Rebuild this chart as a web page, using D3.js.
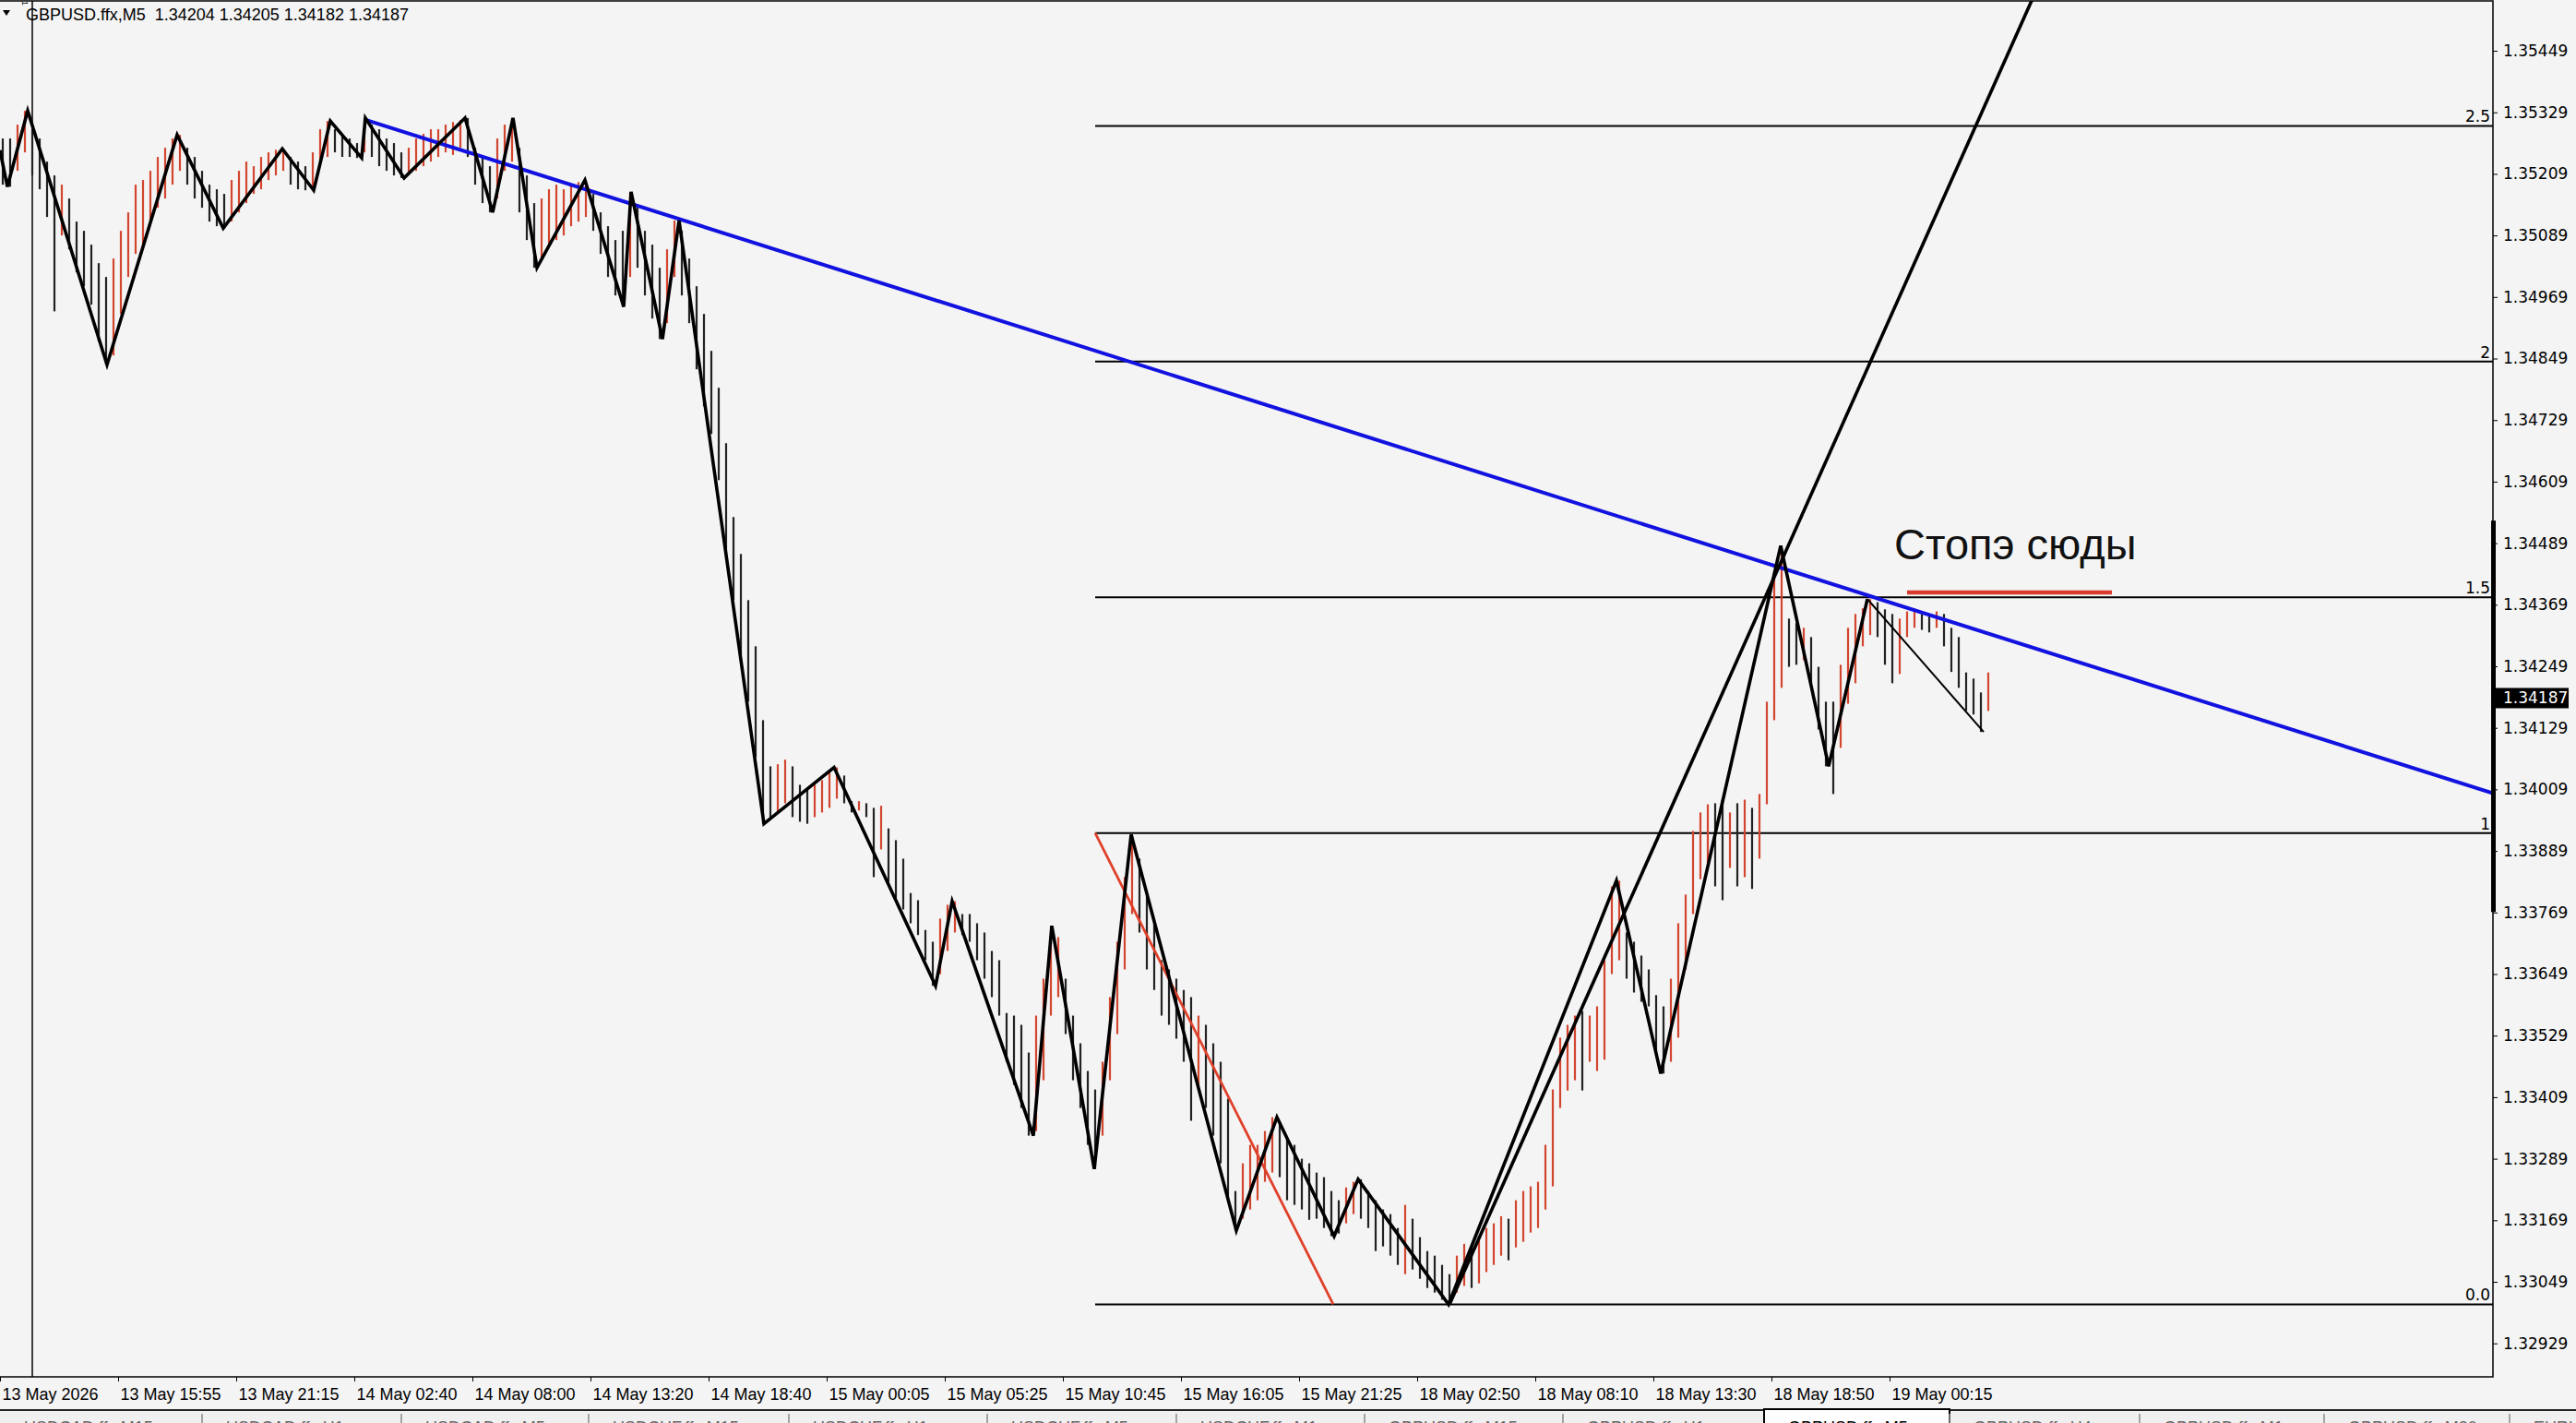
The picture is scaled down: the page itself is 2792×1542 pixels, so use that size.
<!DOCTYPE html>
<html>
<head>
<meta charset="utf-8">
<script src="https://d3js.org/d3.v7.min.js"></script>
<style>
  body { margin: 0; background: #f4f4f4; }
  svg { display: block; }
</style>
</head>
<body>
<svg id="chart" width="2792" height="1542"></svg>
<script>
// ---- data (GBPUSD M5, prices) ----

// one entry = 4 M5 bars (20 min), starting at bar 0
var barHigh = [
  1.35278,1.35278,1.35305,1.35332,1.35296,1.35278,1.35233,1.35206,1.35188,1.35161,
  1.35116,1.35098,1.35071,1.35035,1.35008,1.35044,1.35098,1.35134,1.35188,1.35197,
  1.35215,1.35242,1.35260,1.35278,1.35285,1.35260,1.35242,1.35215,1.35188,1.35179,
  1.35170,1.35197,1.35215,1.35233,1.35224,1.35242,1.35251,1.35256,1.35258,1.35242,
  1.35233,1.35224,1.35251,1.35296,1.35312,1.35296,1.35287,1.35278,1.35269,1.35318,
  1.35305,1.35296,1.35278,1.35269,1.35251,1.35260,1.35278,1.35287,1.35296,1.35296,
  1.35305,1.35310,1.35314,1.35318,1.35260,1.35242,1.35224,1.35278,1.35305,1.35318,
  1.35260,1.35206,1.35152,1.35161,1.35179,1.35188,1.35179,1.35188,1.35193,1.35197,
  1.35170,1.35134,1.35107,1.35080,1.35098,1.35174,1.35143,1.35098,1.35071,1.35026,
  1.35062,1.35118,1.35098,1.35044,1.34990,1.34936,1.34864,1.34792,1.34684,1.34540,
  1.34468,1.34378,1.34288,1.34144,1.34054,1.34058,1.34067,1.34054,1.34018,1.34009,
  1.34018,1.34027,1.34045,1.34052,1.34036,1.33986,1.33986,1.33982,1.33973,1.33977,
  1.33933,1.33910,1.33874,1.33807,1.33793,1.33735,1.33712,1.33757,1.33784,1.33791,
  1.33766,1.33766,1.33748,1.33730,1.33694,1.33676,1.33573,1.33568,1.33550,1.33496,
  1.33568,1.33640,1.33743,1.33721,1.33640,1.33568,1.33514,1.33460,1.33424,1.33478,
  1.33604,1.33712,1.33838,1.33921,1.33874,1.33802,1.33748,1.33676,1.33658,1.33640,
  1.33618,1.33604,1.33568,1.33550,1.33514,1.33478,1.33406,1.33226,1.33280,1.33316,
  1.33316,1.33343,1.33370,1.33361,1.33329,1.33316,1.33289,1.33280,1.33262,1.33253,
  1.33226,1.33208,1.33233,1.33244,1.33249,1.33226,1.33208,1.33190,1.33181,1.33154,
  1.33199,1.33172,1.33136,1.33109,1.33100,1.33082,1.33064,1.33100,1.33123,1.33118,
  1.33136,1.33154,1.33163,1.33177,1.33172,1.33208,1.33226,1.33235,1.33244,1.33316,
  1.33424,1.33525,1.33550,1.33568,1.33577,1.33568,1.33586,1.33676,1.33820,1.33831,
  1.33730,1.33712,1.33685,1.33658,1.33608,1.33586,1.33640,1.33748,1.33804,1.33928,
  1.33964,1.33980,1.33982,1.33989,1.33964,1.33982,1.33989,1.33973,1.34000,1.34180,
  1.34432,1.34484,1.34342,1.34333,1.34324,1.34306,1.34248,1.34180,1.34180,1.34252,
  1.34324,1.34351,1.34362,1.34380,1.34374,1.34360,1.34351,1.34342,1.34356,1.34362,
  1.34351,1.34346,1.34356,1.34351,1.34324,1.34306,1.34237,1.34225,1.34198,1.34237
];
var barLow = [
  1.35188,1.35184,1.35215,1.35251,1.35206,1.35179,1.35125,1.34941,1.35089,1.35062,
  1.35017,1.34990,1.34954,1.34882,1.34837,1.34855,1.34936,1.35008,1.35053,1.35071,
  1.35116,1.35143,1.35161,1.35188,1.35215,1.35188,1.35161,1.35143,1.35116,1.35107,
  1.35103,1.35116,1.35134,1.35152,1.35170,1.35179,1.35197,1.35206,1.35215,1.35188,
  1.35179,1.35177,1.35177,1.35224,1.35242,1.35251,1.35242,1.35242,1.35240,1.35251,
  1.35242,1.35224,1.35215,1.35206,1.35201,1.35210,1.35215,1.35224,1.35233,1.35242,
  1.35251,1.35246,1.35260,1.35242,1.35188,1.35152,1.35134,1.35161,1.35215,1.35233,
  1.35134,1.35080,1.35026,1.35044,1.35071,1.35080,1.35089,1.35107,1.35116,1.35125,
  1.35098,1.35053,1.35008,1.34972,1.34950,1.35008,1.35026,1.34972,1.34927,1.34887,
  1.34918,1.35008,1.34972,1.34918,1.34828,1.34756,1.34702,1.34612,1.34468,1.34378,
  1.34270,1.34180,1.34072,1.33942,1.33955,1.33964,1.33982,1.33955,1.33946,1.33942,
  1.33955,1.33964,1.33973,1.33991,1.33982,1.33964,1.33968,1.33955,1.33838,1.33892,
  1.33829,1.33797,1.33775,1.33748,1.33725,1.33676,1.33626,1.33649,1.33694,1.33730,
  1.33725,1.33712,1.33676,1.33640,1.33604,1.33568,1.33478,1.33433,1.33388,1.33334,
  1.33343,1.33442,1.33568,1.33604,1.33532,1.33442,1.33388,1.33316,1.33269,1.33334,
  1.33442,1.33532,1.33658,1.33766,1.33730,1.33658,1.33618,1.33568,1.33550,1.33523,
  1.33478,1.33363,1.33424,1.33388,1.33334,1.33280,1.33208,1.33149,1.33172,1.33190,
  1.33208,1.33244,1.33262,1.33253,1.33208,1.33199,1.33190,1.33170,1.33172,1.33154,
  1.33138,1.33143,1.33163,1.33181,1.33172,1.33154,1.33109,1.33118,1.33100,1.33082,
  1.33064,1.33073,1.33055,1.33037,1.33028,1.33014,1.33005,1.33028,1.33041,1.33037,
  1.33046,1.33068,1.33082,1.33100,1.33091,1.33116,1.33127,1.33145,1.33154,1.33190,
  1.33235,1.33388,1.33422,1.33442,1.33422,1.33478,1.33460,1.33482,1.33649,1.33676,
  1.33640,1.33613,1.33595,1.33586,1.33496,1.33455,1.33478,1.33525,1.33658,1.33766,
  1.33834,1.33856,1.33820,1.33793,1.33856,1.33820,1.33838,1.33815,1.33874,1.33980,
  1.34144,1.34207,1.34248,1.34252,1.34261,1.34216,1.34126,1.34054,1.34000,1.34090,
  1.34176,1.34216,1.34288,1.34310,1.34306,1.34252,1.34216,1.34234,1.34306,1.34324,
  1.34320,1.34315,1.34324,1.34288,1.34238,1.34207,1.34162,1.34155,1.34121,1.34162
];
var barsPerEntry = 4;

// zigzag indicator vertices (M5 bar index, price)
var zzBars = [0,4,15,58,96,121,153,170,179,196,198,219,252,267,278,291,317,338,342,359,
  368,414,452,507,516,560,570,593,613,670,692,723,736,785,876,900,965,991,1012,1075];
var zzPrices = [1.35255,1.35184,1.35332,1.34837,1.35285,1.35103,1.35258,1.35177,1.35312,1.35240,
  1.35318,1.35201,1.35318,1.35134,1.35318,1.35026,1.35197,1.34950,1.35174,1.34887,
  1.35118,1.33942,1.34052,1.33626,1.33791,1.33334,1.33743,1.33269,1.33921,1.33149,
  1.33370,1.33138,1.33249,1.33005,1.33831,1.33455,1.34484,1.34054,1.34380,1.34121];

// drawn objects
var blueTrendBars = [198.5, 1012.5];
var blueTrendPrices = [1.35314, 1.34387];
var rayBars = [785.5, 1000];
var rayPrices = [1.33005, 1.34733];
var fiboBars = [593.5, 722.5];
var fiboPrices = [1.33924, 1.33005];
var fiboLevels = [0, 1, 1.5, 2, 2.5];
var fiboLabels = ["0.0", "1", "1.5", "2", "2.5"];
var stopBars = [1033.5, 1144.5];
var stopPrice = 1.34393;
var stopText = "Стопэ сюды";
var vlineBar = 17.5;
var vlineLabel = "1";
var axisBandPrices = [1.34533, 1.33770];

// axes
var priceTicks = [1.35449,1.35329,1.35209,1.35089,1.34969,1.34849,1.34729,1.34609,1.34489,1.34369,
  1.34249,1.34129,1.34009,1.33889,1.33769,1.33649,1.33529,1.33409,1.33289,1.33169,1.33049,1.32929];
var timeTickBars = [0,64,128,192,256,320,384,448,512,576,640,704,768,832,896,960,1024];
var timeLabels = ["13 May 2026","13 May 15:55","13 May 21:15","14 May 02:40","14 May 08:00",
  "14 May 13:20","14 May 18:40","15 May 00:05","15 May 05:25","15 May 10:45","15 May 16:05",
  "15 May 21:25","18 May 02:50","18 May 08:10","18 May 13:30","18 May 18:50","19 May 00:15"];
var symbolTitle = "GBPUSD.ffx,M5  1.34204 1.34205 1.34182 1.34187";
var lastPrice = 1.34187;
var tabLabels = ["USDCAD.ffx,M15","USDCAD.ffx,H1","USDCAD.ffx,M5","USDCHF.ffx,M15","USDCHF.ffx,H1",
  "USDCHF.ffx,M5","USDCHF.ffx,M1","GBPUSD.ffx,M15","GBPUSD.ffx,H1","GBPUSD.ffx,M5",
  "GBPUSD.ffx,H4","GBPUSD.ffx,M1","GBPUSD.ffx,M30","EURUSD.ffx,M5"];
var activeTab = 9;

// ---- layout ----
var W = 2792, H = 1542;
var plotRight = 2702, plotTop = 1, plotBottom = 1492;
var tabWidths = [219, 216, 203, 217, 215, 205, 204, 215, 218, 201, 206, 200, 201, 80];

var svg = d3.select("#chart");

var x = d3.scaleLinear().domain([0, 1351]).range([0, plotRight]);
var y = d3.scaleLinear().domain([1.328637, 1.355462]).range([plotBottom, plotTop]);

svg.append("rect").attr("width", W).attr("height", H).attr("fill", "#f4f4f4");

svg.append("defs").append("clipPath").attr("id", "plotClip")
  .append("rect").attr("x", 0).attr("y", plotTop).attr("width", plotRight).attr("height", plotBottom - plotTop);

var plot = svg.append("g").attr("clip-path", "url(#plotClip)");

// vertical line object
plot.append("line")
  .attr("x1", x(vlineBar)).attr("x2", x(vlineBar))
  .attr("y1", 0).attr("y2", plotBottom)
  .attr("stroke", "#000").attr("stroke-width", 1.5);

// fibo levels
var fx0 = x(Math.min(fiboBars[0], fiboBars[1]));
var fRange = fiboPrices[0] - fiboPrices[1];
fiboLevels.forEach(function (lv, i) {
  var py = y(fiboPrices[1] + lv * fRange);
  plot.append("line")
    .attr("x1", fx0).attr("x2", plotRight)
    .attr("y1", py).attr("y2", py)
    .attr("stroke", "#000").attr("stroke-width", 2);
  svg.append("text")
    .attr("x", plotRight - 3).attr("y", py - 4)
    .attr("text-anchor", "end")
    .attr("font-family", "DejaVu Sans")
    .attr("font-size", 17)
    .attr("fill", "#000")
    .text(fiboLabels[i]);
});

// price bars
var entries = barHigh.map(function (h, i) {
  return { bar: i * barsPerEntry + 1.5, high: h, low: barLow[i] };
});
plot.selectAll("line.bar")
  .data(entries)
  .enter().append("line")
  .attr("class", "bar")
  .attr("x1", function (d) { return x(d.bar); })
  .attr("x2", function (d) { return x(d.bar); })
  .attr("y1", function (d) { return y(d.high); })
  .attr("y2", function (d) { return y(d.low); })
  .attr("stroke", function (d, i) {
    if (i == 0) return "#222";
    var prev = entries[i - 1];
    return (d.high + d.low) >= (prev.high + prev.low) ? "#d2452f" : "#222";
  })
  .attr("stroke-width", 2.2);

// fibo diagonal (red)
plot.append("line")
  .attr("x1", x(fiboBars[0])).attr("y1", y(fiboPrices[0]))
  .attr("x2", x(fiboBars[1])).attr("y2", y(fiboPrices[1]))
  .attr("stroke", "#e0402a").attr("stroke-width", 2.8);

// helper: extend a line through two anchors to a given bar
function priceAt(bars, prices, bar) {
  var k = (prices[1] - prices[0]) / (bars[1] - bars[0]);
  return prices[0] + k * (bar - bars[0]);
}

// blue trendline, ray to the right edge
plot.append("line")
  .attr("x1", x(blueTrendBars[0])).attr("y1", y(blueTrendPrices[0]))
  .attr("x2", x(1351)).attr("y2", y(priceAt(blueTrendBars, blueTrendPrices, 1351)))
  .attr("stroke", "#1212e0").attr("stroke-width", 4);

// black ray from the low
plot.append("line")
  .attr("x1", x(rayBars[0])).attr("y1", y(rayPrices[0]))
  .attr("x2", x(1351)).attr("y2", y(priceAt(rayBars, rayPrices, 1351)))
  .attr("stroke", "#000").attr("stroke-width", 3.6);

// zigzag
var zz = zzBars.map(function (b, i) { return [x(b), y(zzPrices[i])]; });
var line = d3.line();
plot.append("path")
  .attr("d", line(zz.slice(0, zz.length - 1)))
  .attr("fill", "none").attr("stroke", "#000")
  .attr("stroke-width", 3.6).attr("stroke-linejoin", "miter");
plot.append("path")
  .attr("d", line(zz.slice(zz.length - 2)))
  .attr("fill", "none").attr("stroke", "#000").attr("stroke-width", 2);

// stop note
plot.append("line")
  .attr("x1", x(stopBars[0])).attr("x2", x(stopBars[1]))
  .attr("y1", y(stopPrice)).attr("y2", y(stopPrice))
  .attr("stroke", "#d83a2c").attr("stroke-width", 4.5);
svg.append("text")
  .attr("x", x(1026.5)).attr("y", y(stopPrice) - 36)
  .attr("font-family", "Liberation Sans, Arial, sans-serif")
  .attr("font-size", 47)
  .attr("fill", "#111")
  .text(stopText);

// frame
svg.append("path")
  .attr("d", "M0," + plotTop + "H" + plotRight + "V" + plotBottom + "H0")
  .attr("fill", "none").attr("stroke", "#000").attr("stroke-width", 1.5);

// price axis
var yAxis = svg.append("g")
  .attr("transform", "translate(" + plotRight + ",0)")
  .call(d3.axisRight(y).tickValues(priceTicks).tickSize(5).tickPadding(6)
    .tickFormat(d3.format(".5f")));
yAxis.select(".domain").remove();
yAxis.selectAll("text")
  .attr("font-family", "DejaVu Sans").attr("font-size", 17).attr("fill", "#000");
yAxis.selectAll("line").attr("stroke", "#000");

// thick band on the scale
svg.append("rect")
  .attr("x", plotRight - 2).attr("width", 5)
  .attr("y", y(axisBandPrices[0]))
  .attr("height", y(axisBandPrices[1]) - y(axisBandPrices[0]))
  .attr("fill", "#000");

// last price label
svg.append("rect")
  .attr("x", plotRight + 1).attr("y", y(lastPrice) - 11)
  .attr("width", 81).attr("height", 22).attr("fill", "#000");
svg.append("text")
  .attr("x", plotRight + 11).attr("y", y(lastPrice))
  .attr("dy", "0.35em")
  .attr("font-family", "DejaVu Sans").attr("font-size", 17)
  .attr("fill", "#fff")
  .text(d3.format(".5f")(lastPrice));

// time axis
var xAxis = svg.append("g")
  .attr("transform", "translate(0," + plotBottom + ")")
  .call(d3.axisBottom(x).tickValues(timeTickBars).tickSize(5)
    .tickFormat(function (d, i) { return timeLabels[i]; }));
xAxis.select(".domain").remove();
xAxis.selectAll("line").attr("stroke", "#000");
xAxis.selectAll("text")
  .attr("text-anchor", "start")
  .attr("x", 2).attr("y", 12).attr("dy", "0.71em")
  .attr("font-family", "Liberation Sans, Arial, sans-serif")
  .attr("font-size", 18).attr("fill", "#000");

// title
svg.append("path").attr("d", "M3,11 L11,11 L7,17 Z").attr("fill", "#000");
svg.append("text")
  .attr("x", 28).attr("y", 22)
  .attr("font-family", "Liberation Sans, Arial, sans-serif")
  .attr("font-size", 18).attr("fill", "#000")
  .style("white-space", "pre")
  .text(symbolTitle);
svg.append("text")
  .attr("transform", "translate(24,1) rotate(90)")
  .attr("font-family", "Liberation Sans, Arial, sans-serif")
  .attr("font-size", 9).attr("fill", "#000")
  .text(vlineLabel);

// symbol tabs at the bottom (cut by the window edge)
var tabTop = 1528;
svg.append("rect").attr("x", 0).attr("y", tabTop).attr("width", W).attr("height", H - tabTop)
  .attr("fill", "#f0f0f0");
svg.append("line").attr("x1", 0).attr("x2", W).attr("y1", tabTop).attr("y2", tabTop)
  .attr("stroke", "#222").attr("stroke-width", 2);
var tx = 0;
tabLabels.forEach(function (t, i) {
  var w = tabWidths[i];
  if (i == activeTab) {
    svg.append("rect").attr("x", tx).attr("y", tabTop - 1).attr("width", w).attr("height", H - tabTop + 2)
      .attr("fill", "#fff").attr("stroke", "#000").attr("stroke-width", 2);
  } else if (i > 0) {
    svg.append("line").attr("x1", tx).attr("x2", tx).attr("y1", tabTop + 4).attr("y2", H)
      .attr("stroke", "#8a8a8a").attr("stroke-width", 1.5);
  }
  svg.append("text")
    .attr("x", tx + 26).attr("y", 1553)
    .attr("font-family", "Liberation Sans, Arial, sans-serif")
    .attr("font-size", 18)
    .attr("fill", i == activeTab ? "#000" : "#666")
    .text(t);
  tx += w;
});
</script>
</body>
</html>
